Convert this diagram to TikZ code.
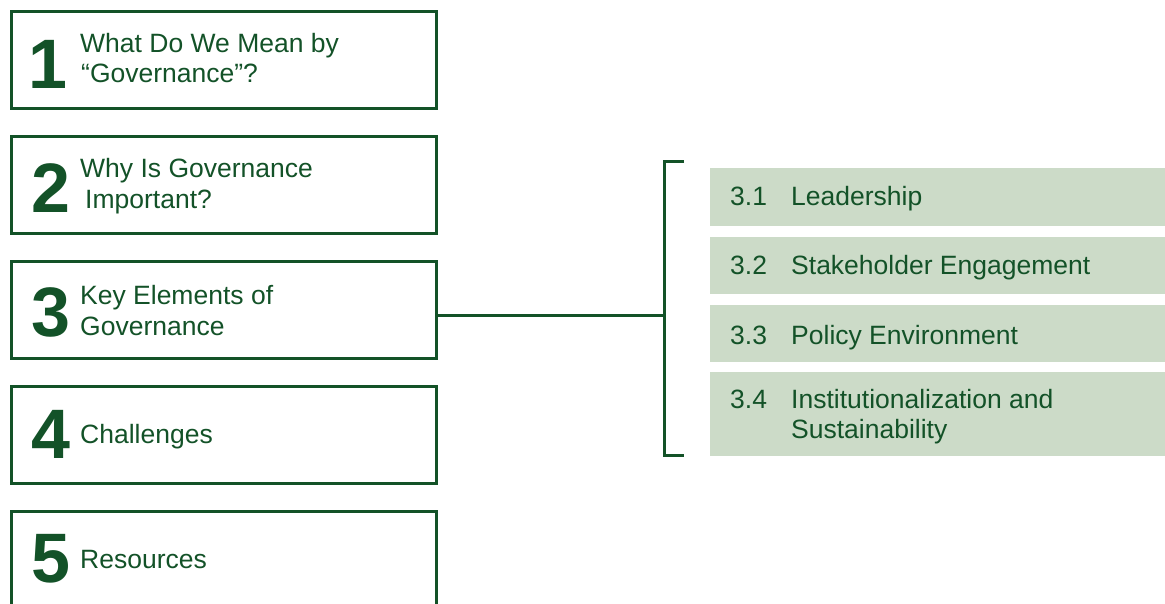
\documentclass[tikz,border=0pt]{standalone}
\usepackage{fontspec}
\setmainfont{Liberation Sans}
\definecolor{dkgreen}{RGB}{19,82,40}
\definecolor{ltgreen}{RGB}{204,219,200}
\tikzset{
  mainbox/.style={draw=dkgreen, line width=3pt, minimum width=425pt, minimum height=97pt, inner sep=0pt},
  bignum/.style={font=\fontsize{70}{70}\selectfont\bfseries, text=dkgreen, anchor=base, inner sep=0pt},
  ltext/.style={font=\fontsize{26.5}{30}\selectfont, text=dkgreen, anchor=base west, inner sep=0pt},
  subbox/.style={fill=ltgreen, draw=none},
  link/.style={draw=dkgreen, line width=3pt}
}
\begin{document}
\begin{tikzpicture}[x=1pt,y=-1pt]
\useasboundingbox (0,0) rectangle (1165,604);
\clip (0,0) rectangle (1165,604);
% left boxes
\node[mainbox] (b1) at (223.5,60) {};
\node[mainbox] (b2) at (223.5,185) {};
\node[mainbox] (b3) at (223.5,310) {};
\node[mainbox] (b4) at (223.5,434.5) {};
\node[mainbox] (b5) at (223.5,559.5) {};
% numbers
\node[bignum] (n1) at (48,89) {1};
\node[bignum] (n2) at (50.5,213) {2};
\node[bignum] (n3) at (50.5,336) {3};
\node[bignum] (n4) at (50.5,458) {4};
\node[bignum] (n5) at (50.5,582) {5};
% texts
\node[ltext] (t1a) at (80,53) {What Do We Mean by};
\node[ltext] (t1b) at (81,83) {“Governance”?};
\node[ltext] (t2a) at (80,178) {Why Is Governance};
\node[ltext] (t2b) at (85,209) {Important?};
\node[ltext] (t3a) at (80,304) {Key Elements of};
\node[ltext] (t3b) at (80,335) {Governance};
\node[ltext] (t4) at (80,443) {Challenges};
\node[ltext] (t5) at (80,568) {Resources};
% right boxes
\path[subbox] (710,168) rectangle (1165,226);
\path[subbox] (710,237) rectangle (1165,294);
\path[subbox] (710,305) rectangle (1165,362);
\path[subbox] (710,372) rectangle (1165,456);
\node[ltext] (s1n) at (730,206) {3.1};
\node[ltext] (s1) at (791,206) {Leadership};
\node[ltext] (s2n) at (730,275) {3.2};
\node[ltext] (s2) at (791,275) {Stakeholder Engagement};
\node[ltext] (s3n) at (730,344) {3.3};
\node[ltext] (s3) at (791,344) {Policy Environment};
\node[ltext] (s4n) at (730,408) {3.4};
\node[ltext] (s4a) at (791,408) {Institutionalization and};
\node[ltext] (s4b) at (791,438) {Sustainability};
% bracket and connector
\coordinate (bt) at (684,162);
\coordinate (bb) at (684,455);
\coordinate (bk) at (664,315);
\draw[link] (bt) -- (664,162) -- (664,455) -- (bb);
\draw[link] (b3.east |- bk) -- (bk);
\end{tikzpicture}
\end{document}
